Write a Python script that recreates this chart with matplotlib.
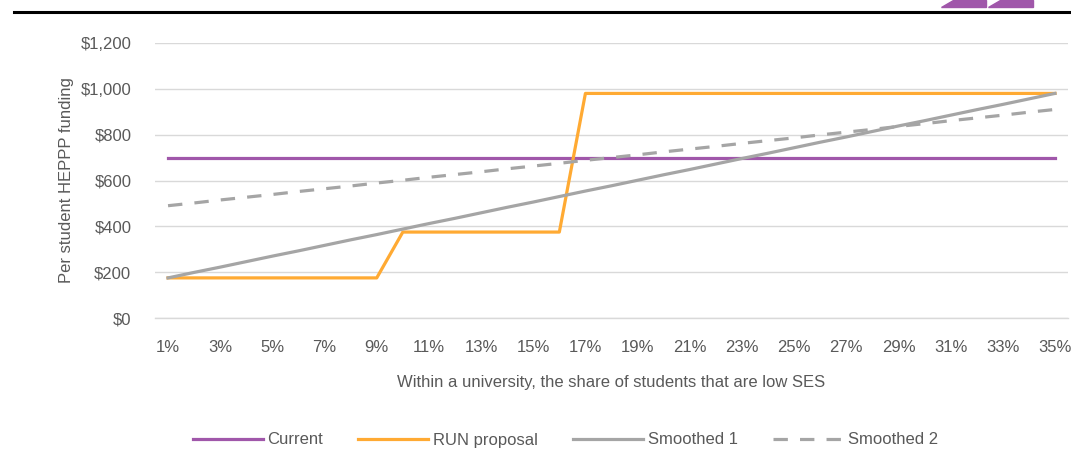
import matplotlib
matplotlib.use("Agg")
import matplotlib.pyplot as plt
from matplotlib.patches import Polygon
import numpy as np

# share of low SES students, 1% .. 35%
shares = list(range(1, 36))
share_labels = [f"{s}%" for s in shares]

current = [700] * 35
run_proposal = [175] * 9 + [375] * 7 + [980] * 19
smoothed_1 = [175, 199, 222, 246, 270, 293, 317, 341, 364, 388, 412, 435, 459, 483, 506,
              530, 554, 577, 601, 625, 648, 672, 696, 719, 743, 767, 790, 814, 838, 861,
              885, 909, 932, 956, 980]
smoothed_2 = [490, 502, 515, 527, 539, 552, 564, 576, 589, 601, 614, 626, 638, 651, 663,
              675, 688, 700, 712, 725, 737, 749, 762, 774, 786, 799, 811, 823, 836, 848,
              861, 873, 885, 898, 910]

y_ticks = [0, 200, 400, 600, 800, 1000, 1200]

purple = "#A057AA"
orange = "#FFAA33"
grey = "#A5A5A5"
text_col = "#595959"

plt.rcParams["font.family"] = ["Liberation Sans", "DejaVu Sans"]

W, H = 1071, 451
fig = plt.figure(figsize=(W / 100, H / 100), dpi=100)
ax = fig.add_axes([155 / W, 1 - 318 / H, (1068 - 155) / W, (318 - 43) / H])

x = np.arange(len(shares))
ax.plot(x, current, color=purple, lw=2.3, label="Current")
ax.plot(x, run_proposal, color=orange, lw=2.3, label="RUN proposal")
ax.plot(x, smoothed_1, color=grey, lw=2.3, label="Smoothed 1")
ax.plot(x, smoothed_2, color=grey, lw=2.3, ls=(0, (4.5, 3.8)), label="Smoothed 2")

ax.set_xlim(-0.5, len(shares) - 0.5)
ax.set_ylim(0, 1200)
ax.set_yticks(y_ticks)
ax.set_yticklabels([f"${v:,}" for v in y_ticks])
ax.set_xticks(x[::2])
ax.set_xticklabels(share_labels[::2])
ax.grid(axis="y", color="#D9D9D9", lw=1)
ax.axhline(0, color="#D9D9D9", lw=1, clip_on=False, zorder=0.5)
ax.set_axisbelow(True)
for s in ax.spines.values():
    s.set_visible(False)
ax.tick_params(length=0, labelsize=12, colors=text_col)
ax.tick_params(axis="x", pad=16)
ax.tick_params(axis="y", pad=17)

ax.set_xlabel("Within a university, the share of students that are low SES",
              fontsize=12, color=text_col, labelpad=14)
ax.set_ylabel("Per student HEPPP funding", fontsize=12, color=text_col, labelpad=5)

fig.legend(loc="center", bbox_to_anchor=(0.528, 1 - 440 / H), ncol=4, frameon=False,
           fontsize=12, handlelength=4.2, handletextpad=0.3, columnspacing=2.1,
           labelcolor=text_col)

# header rule and decorative marks
fig.add_artist(plt.Line2D([14 / W, 1], [1 - 12 / H, 1 - 12 / H], color="black", lw=2.2))
for x0 in (941, 988):
    pts = [(x0, 7), (x0 + 45, 7), (x0 + 45, 0), (x0 + 12, 0)]
    fig.add_artist(Polygon([(px / W, 1 - py / H) for px, py in pts], closed=True,
                           color=purple, transform=fig.transFigure))

fig.savefig("out.png", dpi=100)
